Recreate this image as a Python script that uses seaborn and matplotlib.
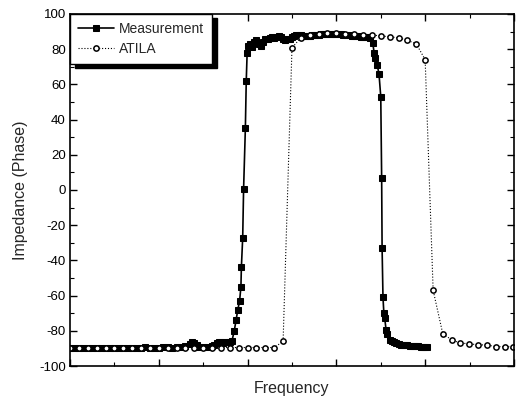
import matplotlib
matplotlib.use("Agg")
import matplotlib.pyplot as plt
import seaborn as sns
import numpy as np
import pandas as pd
from matplotlib.ticker import MultipleLocator

# ---- data (frequency in arbitrary units 0..10, phase in degrees) ----
meas_x = [0.0, 0.1, 0.2, 0.3, 0.4, 0.5, 0.6, 0.7, 0.8, 0.9, 1.0, 1.1, 1.2, 1.3, 1.4,
          1.5, 1.6, 1.7, 1.8, 1.9, 2.0, 2.1, 2.2, 2.3, 2.4, 2.5, 2.6, 2.7, 2.75, 2.8,
          2.85, 2.9, 3.0, 3.1, 3.2, 3.25, 3.3, 3.35, 3.4, 3.45, 3.5, 3.55, 3.6, 3.65,
          3.70, 3.74, 3.78, 3.82, 3.85, 3.86, 3.89, 3.91, 3.95, 3.97, 3.99,
          4.02, 4.05, 4.1, 4.15, 4.2, 4.25, 4.3, 4.35, 4.4, 4.45, 4.5, 4.55, 4.6, 4.65,
          4.7, 4.75, 4.8, 4.85, 4.9, 4.95, 5.0, 5.05, 5.1, 5.15, 5.2, 5.25, 5.3, 5.35,
          5.4, 5.45, 5.5, 5.55, 5.6, 5.65, 5.7, 5.75, 5.8, 5.85, 5.9, 5.95, 6.0, 6.05,
          6.1, 6.15, 6.2, 6.25, 6.3, 6.35, 6.4, 6.45, 6.5, 6.55, 6.6, 6.65, 6.7, 6.76,
          6.82, 6.85, 6.88, 6.92, 6.96, 7.0, 7.02, 7.03, 7.05, 7.07, 7.09, 7.12, 7.15,
          7.2, 7.25, 7.3, 7.35, 7.4, 7.45, 7.5, 7.55, 7.6, 7.65, 7.7, 7.75, 7.8, 7.85,
          7.9, 7.95, 8.0, 8.04]
meas_y = [-90, -90, -90, -89.5, -90, -90, -89.5, -90, -90, -89.5, -90, -89.5, -89.5, -90, -89.5,
          -89.5, -89.5, -89, -89.5, -89.5, -89.5, -89, -89, -89.5, -89, -89, -88.5, -87.5, -86.5, -87,
          -88, -89, -89, -89, -88.5, -88, -87, -86.5, -86.5, -87, -86.5, -86.5, -86.5, -85.5,
          -80, -74, -68, -63, -55, -44, -27, 0.5, 35, 62, 78,
          82, 83, 81, 84, 85, 83, 82, 84, 86, 86, 86.5, 87, 86.5, 87,
          87.5, 87, 86, 85, 85.5, 86, 87, 87.5, 88, 88, 88, 87.5, 87.5, 87.5,
          87.5, 88, 88, 88, 88, 88.5, 88.5, 88.5, 88.5, 88.5, 88.5, 88.5, 88.5, 88.5,
          88.5, 88, 88, 88, 88, 87.5, 87.5, 87.5, 87.5, 87, 87, 87, 87, 86.5,
          83.5, 78, 75, 71, 66, 53, 7, -33, -61, -70, -73, -79.5, -82,
          -85, -86, -86.5, -87, -87.5, -87.8, -88, -88.2, -88.3, -88.4, -88.5, -88.6, -88.7, -88.8,
          -89, -89.1, -89.2, -89.3]

atila_x = [0.0, 0.2, 0.4, 0.6, 0.8, 1.0, 1.2, 1.4, 1.6, 1.8, 2.0, 2.2, 2.4, 2.6, 2.8,
           3.0, 3.2, 3.4, 3.6, 3.8, 4.0, 4.2, 4.4, 4.6, 4.8, 5.0, 5.2, 5.4, 5.6, 5.8,
           6.0, 6.2, 6.4, 6.6, 6.8, 7.0, 7.2, 7.4, 7.6, 7.8, 8.0, 8.18, 8.4, 8.6, 8.78,
           8.99, 9.19, 9.39, 9.59, 9.8, 9.98]
atila_y = [-89.5, -89.5, -89.5, -89.5, -89.5, -89.5, -89.5, -89.5, -89.5, -89.5, -89.5, -89.5,
           -89.5, -89.5, -89.5, -89.5, -89.5, -89.5, -89.5, -89.5, -89.5, -89.5, -89.5, -89.5,
           -86, 80.7, 86.5, 88, 88.5, 89, 89, 88.5, 88.5, 88, 88, 87.5, 87, 86.4, 85, 83, 74,
           -57, -82, -85, -87, -87.3, -88, -88, -89, -89, -89]

y_ticks = [-100, -80, -60, -40, -20, 0, 20, 40, 60, 80, 100]

# ---- styling ----
sns.set_style("ticks")
plt.rcParams['font.family'] = ['Liberation Sans', 'DejaVu Sans']
plt.rcParams['axes.unicode_minus'] = False

fig = plt.figure(figsize=(5.16, 3.97), dpi=100)
ax = fig.add_axes([0.1357, 0.078, 0.8603, 0.887])

meas = pd.DataFrame({"f": meas_x, "phase": meas_y})
atila = pd.DataFrame({"f": atila_x, "phase": atila_y})

sns.lineplot(data=meas, x="f", y="phase", ax=ax, color="black", linewidth=1.2,
             marker="s", markersize=3.8, markeredgecolor="black", markerfacecolor="black",
             label="Measurement", sort=False, estimator=None)
sns.lineplot(data=atila, x="f", y="phase", ax=ax, color="black", linewidth=0.8,
             linestyle=":", marker="o", markersize=3.8, markeredgewidth=1.1,
             markeredgecolor="black", markerfacecolor="white",
             label="ATILA", sort=False, estimator=None)

ax.set_xlim(0, 10)
ax.set_ylim(-100, 100)
ax.set_yticks(y_ticks)
ax.set_yticklabels([str(v) for v in y_ticks])
ax.yaxis.set_minor_locator(MultipleLocator(10))
ax.xaxis.set_major_locator(MultipleLocator(2))
ax.xaxis.set_minor_locator(MultipleLocator(1))
ax.set_xticklabels([])

ax.tick_params(which="both", direction="in", top=True, right=True, colors="black")
ax.tick_params(which="major", length=5, width=1)
ax.tick_params(which="minor", length=3, width=0.8)
ax.tick_params(axis="y", labelsize=9.5, pad=3)
for s in ax.spines.values():
    s.set_color("black")
    s.set_linewidth(1.2)

ax.set_xlabel("Frequency", fontsize=11.5, labelpad=7)
ax.set_ylabel("Impedance (Phase)", fontsize=11.5, labelpad=8)

leg = ax.legend(loc="upper left", bbox_to_anchor=(0.0, 1.0), borderaxespad=0,
                frameon=True, fancybox=False, edgecolor="black", facecolor="white",
                framealpha=1, fontsize=10, handlelength=2.6, handletextpad=0.3,
                borderpad=0.6, labelspacing=0.4,
                shadow={"ox": 3.5, "oy": -3, "color": "black", "alpha": 1})
leg.get_frame().set_linewidth(1.0)

fig.savefig("out.png", dpi=100)
